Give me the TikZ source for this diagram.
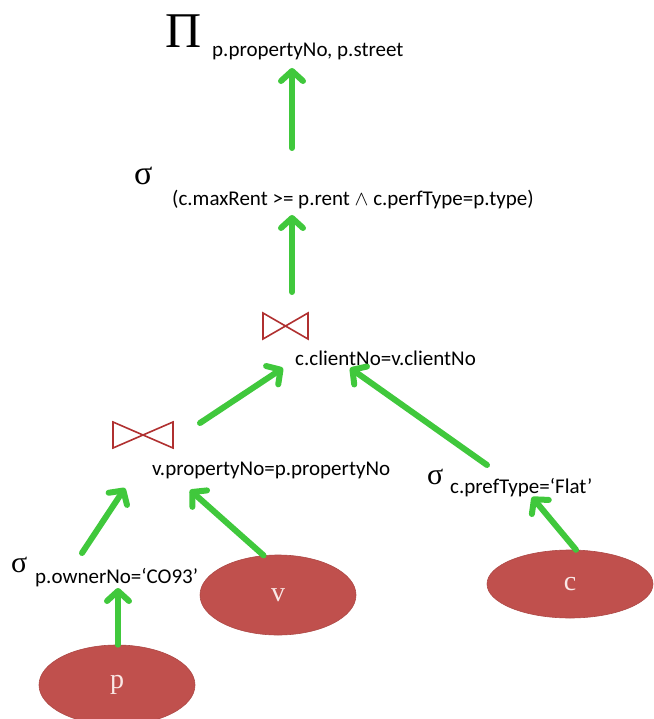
\documentclass[tikz,border=0pt]{standalone}
\usepackage{fontspec}
\setmainfont{Carlito}
\newfontfamily\serifgk{Liberation Serif}
\usetikzlibrary{arrows.meta,shapes.geometric}
\definecolor{arrgreen}{RGB}{64,200,60}
\definecolor{relred}{RGB}{192,80,77}
\definecolor{joinred}{RGB}{176,48,48}
\definecolor{lbl}{RGB}{250,232,230}
\begin{document}
\begin{tikzpicture}[x=1pt,y=-1pt,
  flow/.style={draw=arrgreen, line width=6pt, line cap=round, -{Straight Barb[length=10pt,width=22pt,round]}},
  rel/.style={ellipse, fill=relred, draw=relred!90!black, line width=0.6pt, minimum width=156pt, minimum height=80pt, inner sep=0pt, font=\serifgk\fontsize{28}{30}\selectfont, text=lbl},
  sub/.style={anchor=base west, inner sep=0pt, font=\fontsize{21}{25}\selectfont},
  op/.style={anchor=base west, inner sep=0pt, font=\serifgk\fontsize{30}{32}\selectfont},
  bowtie/.style={draw=joinred, line width=1.6pt, line join=miter}]
\useasboundingbox (0,0) rectangle (653,719);

% projection
\node[op, font=\serifgk\fontsize{50}{52}\selectfont] (pi) at (165,48) {Π};
\node[sub] (pisub) at (212,57) {p.propertyNo, p.street};

% top selection
\node[op, font=\serifgk\fontsize{34}{36}\selectfont] (sel1) at (134,185) {σ};
\node[sub] (sel1sub) at (172,206) {(c.maxRent >= p.rent $\wedge$ c.perfType=p.type)};

% joins
\draw[bowtie] (263,313) -- (308,339) -- (308,313) -- (263,339) -- cycle;
\node[sub] (j1) at (295,365) {c.clientNo=v.clientNo};
\draw[bowtie] (113,422) -- (173,448) -- (173,422) -- (113,448) -- cycle;
\node[sub] (j2) at (152,475) {v.propertyNo=p.propertyNo};

% selections
\node[op] (sel2) at (427,484) {σ};
\node[sub] (sel2sub) at (450,493) {c.prefType=‘Flat’};
\node[op] (sel3) at (11,572) {σ};
\node[sub] (sel3sub) at (35,583) {p.ownerNo=‘CO93’};

% relations
\node[rel] (p) at (117,685) {p};
\node[rel] (v) at (278,595) {v};
\node[rel, minimum width=166pt, minimum height=68pt] (c) at (570,584) {c};

% arrow end points
\coordinate (a1s) at (292,148); \coordinate (a1e) at (292,68);
\coordinate (a2s) at (292,292); \coordinate (a2e) at (292,215);
\coordinate (a3s) at (200,423); \coordinate (a3e) at (283,368);
\coordinate (a4s) at (487,465); \coordinate (a4e) at (350,368);
\coordinate (a5s) at (82,553);  \coordinate (a5e) at (125,488);
\coordinate (a6e) at (190,490);
\coordinate (a7e) at (532,497);
\coordinate (a8e) at (118,588);

\draw[flow] (a1s) -- (a1e);
\draw[flow] (a2s) -- (a2e);
\draw[flow] (a3s) -- (a3e);
\draw[flow] (a4s) -- (a4e);
\draw[flow] (a5s) -- (a5e);
\draw[flow] (v.110) -- (a6e);
\draw[flow] (c.80) -- (a7e);
\draw[flow] (p.north -| a8e) -- (a8e);
\end{tikzpicture}
\end{document}
